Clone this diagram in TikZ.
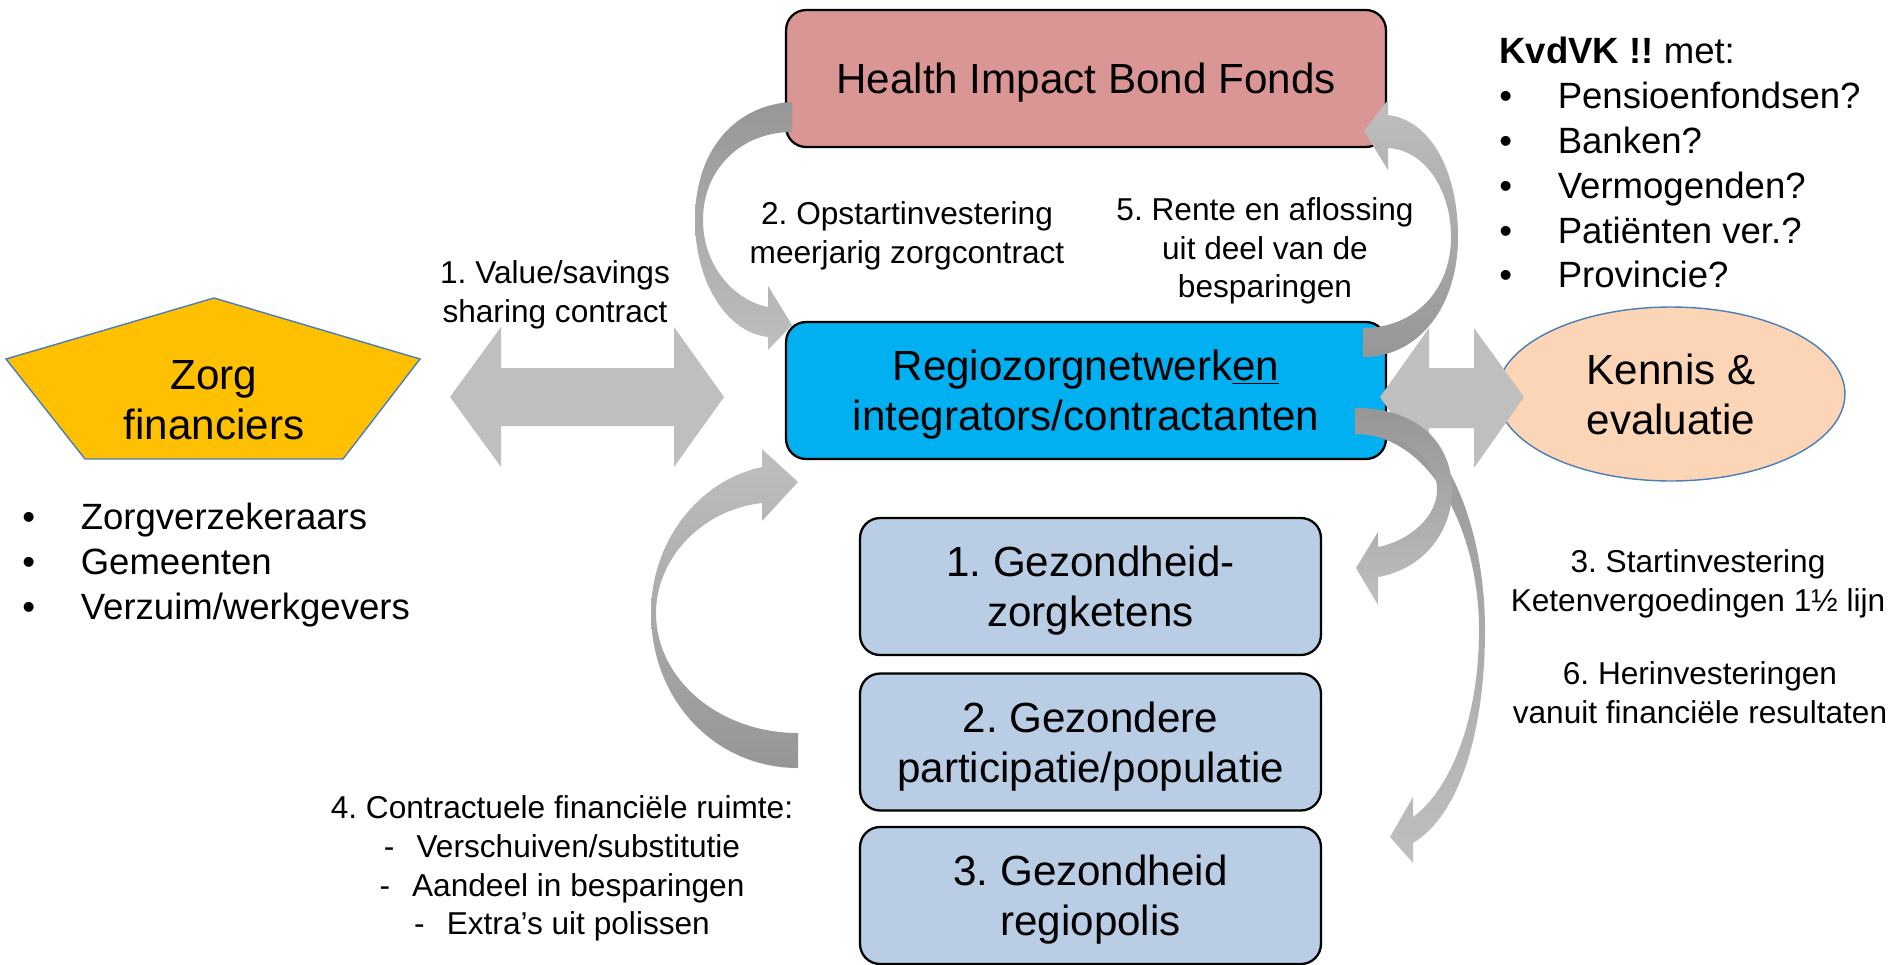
\documentclass[tikz,border=0pt]{standalone}
\usepackage{fontspec}
\setmainfont{Liberation Sans}
\usetikzlibrary{shapes.geometric}
\frenchspacing

\definecolor{fondsrood}{HTML}{D99694}
\definecolor{regioblauw}{HTML}{00B0F0}
\definecolor{ketenblauw}{HTML}{B9CDE5}
\definecolor{financgeel}{HTML}{FFC000}
\definecolor{kennisoranje}{HTML}{FBD5B5}
\definecolor{randblauw}{HTML}{4A7EBB}
\definecolor{pijllicht}{HTML}{BFBFBF}
\definecolor{pijldonker}{HTML}{969696}

\newcommand{\grootfont}{\fontsize{24}{28.5}\selectfont}
\newcommand{\lijstfont}{\fontsize{20.8}{25.5}\selectfont}
\newcommand{\kleinfont}{\fontsize{18}{22}\selectfont}
\newcommand{\opsom}{\makebox[1.6em][l]{\textbullet}}

\begin{document}
\begin{tikzpicture}[x=0.02cm, y=-0.02cm,
    blok/.style={draw=black, line width=1.3pt, rounded corners=0.4cm,
      align=center, font=\grootfont, inner sep=0pt, text depth=0pt,
      minimum height=2.74cm},
    fondsblok/.style={blok, fill=fondsrood, minimum width=12cm},
    regioblok/.style={blok, fill=regioblauw, minimum width=12cm},
    ketenblok/.style={blok, fill=ketenblauw, minimum width=9.22cm},
    uitleg/.style={font=\kleinfont, align=center, inner sep=0pt},
    lijst/.style={font=\lijstfont, align=left, inner sep=0pt, anchor=north west},
    dubbelpijl/.style={fill=pijllicht},
    omrand/.style={draw=randblauw, line width=0.8pt}]

  \useasboundingbox (0,0) rectangle (1893,964);

  %% ===== MIDDEN: fonds, regio en ketens =====
  \node[fondsblok] (fonds) at (1086,78.5) {Health Impact Bond Fonds};
  \node[regioblok] (regio) at (1086,390.5)
    {Regiozorgnetwerk\underline{en}\\integrators/contractanten};
  \node[ketenblok] (keten1) at (1090.5,586.5) {1. Gezondheid-\\zorgketens};
  \node[ketenblok] (keten2) at (1090.5,742) {2. Gezondere\\participatie/populatie};
  \node[ketenblok] (keten3) at (1090.5,895.5) {3. Gezondheid\\regiopolis};

  %% ===== LINKS: zorgfinanciers =====
  \draw[omrand, fill=financgeel]
    (214,298) -- (420,359) -- (343,459) -- (85,459) -- (6,359) -- cycle;
  \node[font=\grootfont, align=center, inner sep=0pt, text depth=0pt] (zorg)
    at (214,400) {Zorg\\financiers};
  \node[lijst] (financiers) at (22,503)
    {\opsom Zorgverzekeraars\\\opsom Gemeenten\\\opsom Verzuim/werkgevers};

  %% ===== RECHTS: kennis en investeerders =====
  \node[omrand, fill=kennisoranje, ellipse, minimum width=6.96cm,
    minimum height=3.48cm, font=\grootfont, align=center, inner sep=0pt,
    text depth=0pt] (kennis) at (1671,394) {Kennis \&\\evaluatie};
  \node[lijst] (kvdvk) at (1499,37)
    {\textbf{KvdVK !!} met:\\\opsom Pensioenfondsen?\\\opsom Banken?\\
     \opsom Vermogenden?\\\opsom Patiënten ver.?\\\opsom Provincie?};

  % Double block arrows
  \fill[dubbelpijl] (450,397) -- (501,327) -- (501,368) -- (674,368) -- (674,327)
    -- (724,397) -- (674,467) -- (674,426) -- (501,426) -- (501,467) -- cycle;
  \fill[dubbelpijl] (1380,397) -- (1429,328) -- (1429,368) -- (1474,368) -- (1474,328)
    -- (1524,397) -- (1474,468) -- (1474,428) -- (1429,428) -- (1429,468) -- cycle;

  % 2. fonds -> regio
  \shade[top color=pijldonker, bottom color=pijllicht]
    (792,102) .. controls (735,105) and (695,150) .. (695,220)
    .. controls (695,280) and (725,332) .. (768,337)
    -- (768,350) -- (792,325) -- (768,286) -- (768,307)
    .. controls (733,300) and (703,265) .. (703,220)
    .. controls (703,168) and (742,132) .. (792,132) -- cycle;

  % 5. regio -> fonds
  \shade[top color=pijllicht, bottom color=pijldonker]
    (1363,357) .. controls (1420,357) and (1458,305) .. (1458,237)
    .. controls (1458,170) and (1430,120) .. (1388,115)
    -- (1388,100) -- (1364,131) -- (1388,170) -- (1388,148)
    .. controls (1425,150) and (1451,190) .. (1451,237)
    .. controls (1451,290) and (1415,328) .. (1363,328) -- cycle;

  % 4. ketens -> regio
  \shade[top color=pijllicht, bottom color=pijldonker]
    (798,768) .. controls (715,768) and (651,700) .. (651,613)
    .. controls (651,540) and (700,480) .. (762,467)
    -- (762,449) -- (798,482) -- (762,521) -- (762,503)
    .. controls (700,510) and (656,560) .. (656,613)
    .. controls (656,680) and (720,733) .. (798,733) -- cycle;

  % 6. regio -> regiopolis (long bend)
  \shade[top color=pijldonker, bottom color=pijllicht]
    (1355,408) .. controls (1440,405) and (1485,520) .. (1485,630)
    .. controls (1485,730) and (1460,815) .. (1413,843)
    -- (1413,863) -- (1390,837) -- (1413,797) -- (1413,817)
    .. controls (1450,790) and (1479,720) .. (1479,630)
    .. controls (1479,530) and (1430,434) .. (1355,434) -- cycle;

  % 3. regio -> zorgketens (short bend)
  \shade[top color=pijldonker, bottom color=pijllicht]
    (1355,408) .. controls (1420,408) and (1452,445) .. (1452,490)
    .. controls (1452,535) and (1420,570) .. (1378,577)
    -- (1378,605) -- (1356,568) -- (1378,532) -- (1378,547)
    .. controls (1412,540) and (1437,515) .. (1437,490)
    .. controls (1437,455) and (1400,434) .. (1355,434) -- cycle;

  % Labels
  \node[uitleg] (waarde) at (555,294.5) {1. Value/savings\\sharing contract};
  \node[uitleg] (opstart) at (907,236) {2. Opstartinvestering\\meerjarig zorgcontract};
  \node[uitleg] (rente) at (1265,251) {5. Rente en aflossing\\uit deel van de\\besparingen};
  \node[uitleg] (start) at (1698,583.5) {3. Startinvestering\\Ketenvergoedingen 1½ lijn};
  \node[uitleg] (herinv) at (1700,693) {6. Herinvesteringen\\vanuit financiële resultaten};
  \node[uitleg] (ruimte) at (562,868.5) {4. Contractuele financiële ruimte:\\
    -\hspace{0.7em}Verschuiven/substitutie\\
    -\hspace{0.7em}Aandeel in besparingen\\
    -\hspace{0.7em}Extra’s uit polissen};

\end{tikzpicture}
\end{document}
